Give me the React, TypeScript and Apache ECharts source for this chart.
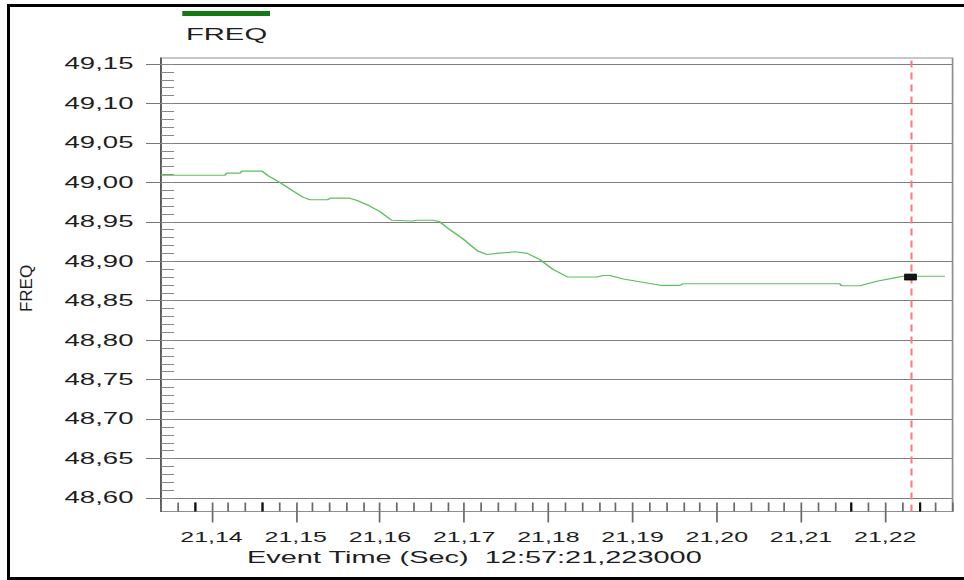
import React, { useEffect, useRef } from "react";
import * as echarts from "echarts";

// ---- data ----
const timeSec = [
  21.134, 21.1416, 21.1418, 21.1434, 21.1436, 21.146, 21.1467, 21.1481, 21.1497,
  21.1509, 21.1517, 21.1538, 21.1541, 21.1564, 21.1573, 21.1588, 21.16, 21.1614,
  21.1639, 21.1644, 21.1663, 21.1671, 21.1683, 21.1699, 21.1716, 21.1727, 21.1739,
  21.176, 21.1775, 21.179, 21.1805, 21.1823, 21.1858, 21.1865, 21.1873, 21.1889,
  21.1917, 21.1933, 21.1956, 21.196, 21.2146, 21.2148, 21.217, 21.219, 21.2214,
  21.2221, 21.2271,
];
const freqHz = [
  49.009, 49.009, 49.0117, 49.0117, 49.0143, 49.0143, 49.0086, 49.0, 48.989,
  48.981, 48.978, 48.978, 48.98, 48.98, 48.977, 48.97, 48.963, 48.952,
  48.951, 48.952, 48.952, 48.95, 48.94, 48.928, 48.913, 48.9085, 48.91,
  48.912, 48.91, 48.902, 48.89, 48.88, 48.88, 48.882, 48.882, 48.8776,
  48.8725, 48.8695, 48.8695, 48.8716, 48.8716, 48.869, 48.869, 48.8746, 48.8796,
  48.881, 48.881,
];
const xMajorTicks = [21.14, 21.15, 21.16, 21.17, 21.18, 21.19, 21.2, 21.21, 21.22];
const xDarkTicks = [21.138, 21.146, 21.216, 21.224];
const xMin = 21.134;
const xMax = 21.228;
const yMin = 48.6;
const yMax = 49.15;
const yStep = 0.05;
const yMinorStep = 0.01;
const xMinorStep = 0.002;
const eventTime = 21.223;
const eventFreq = 48.88;
const seriesName = "FREQ";
const xAxisTitle = "Event Time (Sec)  12:57:21,223000";

// ---- layout ----
const W = 560;
const S = 964 / W; // horizontal stretch of the original rendering
const FONT = "'Liberation Sans', Arial, Helvetica, sans-serif";
const TXT = "#1e1e1e";
const fmt = (v: number) => v.toFixed(2).replace(".", ",");

export default function App() {
  const ref = useRef<HTMLDivElement>(null);

  useEffect(() => {
    if (!ref.current) return;
    const chart = echarts.init(ref.current, undefined, { renderer: "svg" });
    const gridL = 161 / S;
    const gridR = W - 952.6 / S;
    const option: any = {
      animation: false,
      backgroundColor: "#ffffff",
      grid: [
        { left: gridL, right: gridR, top: 64, bottom: 82 },
        {
          left: gridL,
          right: gridR,
          top: 58,
          bottom: 68.5,
          show: true,
          borderColor: "#8f8f8f",
          borderWidth: 1,
          backgroundColor: "transparent",
        },
      ],
      xAxis: [
        { gridIndex: 0, type: "value", min: xMin, max: xMax, show: false },
        {
          gridIndex: 1,
          type: "value",
          position: "bottom",
          min: xMin,
          max: xMax,
          interval: xMinorStep,
          axisLine: { show: false, onZero: false },
          axisTick: { show: true, inside: true, length: 9, lineStyle: { color: "#6a6a6a", width: 1 } },
          axisLabel: { show: false },
          splitLine: { show: false },
        },
        {
          gridIndex: 1,
          type: "value",
          position: "bottom",
          min: xMin,
          max: xMax,
          axisLine: { show: false, onZero: false },
          axisTick: {
            show: true,
            inside: true,
            length: -11,
            customValues: xMajorTicks,
            lineStyle: { color: "#6a6a6a", width: 1 },
          },
          axisLabel: {
            show: true,
            customValues: xMajorTicks,
            formatter: fmt,
            margin: 18,
            fontSize: 14.5,
            color: TXT,
            fontFamily: FONT,
          },
          splitLine: { show: false },
        },
        {
          gridIndex: 1,
          type: "value",
          position: "bottom",
          min: xMin,
          max: xMax,
          axisLine: { show: false, onZero: false },
          axisTick: {
            show: true,
            inside: true,
            length: 9,
            customValues: xDarkTicks,
            lineStyle: { color: "#111111", width: 1.3 },
          },
          axisLabel: { show: false },
          splitLine: { show: false },
        },
      ],
      yAxis: [
        {
          gridIndex: 0,
          type: "value",
          position: "left",
          min: yMin,
          max: yMax,
          interval: yStep,
          axisLine: { show: false, onZero: false },
          axisTick: { show: true, inside: false, length: 15 / S, lineStyle: { color: "#777777" } },
          axisLabel: { margin: 16, fontSize: 16, color: TXT, fontFamily: FONT, formatter: fmt },
          splitLine: { show: true, lineStyle: { color: "#7d7d7d", width: 1 } },
        },
        {
          gridIndex: 0,
          type: "value",
          position: "left",
          min: yMin,
          max: yMax,
          interval: yMinorStep,
          axisLine: { show: false, onZero: false },
          axisTick: { show: true, inside: true, length: 13 / S, lineStyle: { color: "#888888" } },
          axisLabel: { show: false },
          splitLine: { show: false },
        },
        {
          gridIndex: 1,
          type: "value",
          position: "left",
          min: 0,
          max: 1,
          axisLine: { show: true, onZero: false, lineStyle: { color: "#555555", width: 1 } },
          axisTick: { show: false },
          axisLabel: { show: false },
          splitLine: { show: false },
        },
      ],
      series: [
        {
          name: seriesName,
          type: "line",
          xAxisIndex: 0,
          yAxisIndex: 0,
          data: timeSec.map((t, i) => [t, freqHz[i]]),
          showSymbol: false,
          symbol: "none",
          silent: true,
          lineStyle: { color: "#5fbf5f", width: 1.1 },
          z: 3,
        },
        {
          type: "scatter",
          xAxisIndex: 0,
          yAxisIndex: 0,
          data: [[eventTime, eventFreq]],
          symbol: "rect",
          symbolSize: [7, 6],
          silent: true,
          itemStyle: { color: "#151515", borderColor: "#000", borderWidth: 0.5, opacity: 1 },
          z: 6,
        },
        {
          type: "line",
          xAxisIndex: 1,
          yAxisIndex: 2,
          data: [],
          silent: true,
          markLine: {
            silent: true,
            precision: 6,
            symbol: ["none", "none"],
            label: { show: false },
            lineStyle: { color: "#ff7b7b", type: [7, 5], width: 1.2 },
            data: [{ xAxis: eventTime }],
          },
          z: 5,
        },
      ],
      graphic: [
        {
          type: "rect",
          shape: { x: 182.3 / S, y: 11, width: 87.7 / S, height: 5 },
          style: { fill: "#127a12" },
        },
        {
          type: "text",
          x: 226.5 / S,
          y: 34,
          style: {
            text: seriesName,
            fontSize: 17,
            fontFamily: FONT,
            fill: TXT,
            align: "center",
            verticalAlign: "middle",
            textAlign: "center",
            textVerticalAlign: "middle",
          },
        },
        {
          type: "text",
          x: 26 / S,
          y: 288.5,
          rotation: Math.PI / 2,
          scaleY: 1 / S,
          style: {
            text: seriesName,
            fontSize: 17,
            fontFamily: FONT,
            fill: TXT,
            align: "center",
            verticalAlign: "middle",
            textAlign: "center",
            textVerticalAlign: "middle",
          },
        },
        {
          type: "text",
          x: 247 / S,
          y: 558,
          scaleX: 1.05,
          style: {
            text: xAxisTitle,
            fontSize: 16,
            fontFamily: FONT,
            fill: TXT,
            align: "left",
            verticalAlign: "middle",
            textAlign: "left",
            textVerticalAlign: "middle",
          },
        },
      ],
    };
    chart.setOption(option);
    return () => chart.dispose();
  }, []);

  return (
    <div
      style={{
        position: "absolute",
        left: 0,
        top: 0,
        width: 964,
        height: 580,
        overflow: "hidden",
        background: "#ffffff",
      }}
    >
      <div
        ref={ref}
        style={{
          position: "absolute",
          left: 0,
          top: 0,
          width: W,
          height: 580,
          transform: `scaleX(${S})`,
          transformOrigin: "0 0",
        }}
      />
      <div
        style={{
          position: "absolute",
          left: 7,
          top: 4,
          width: 957,
          height: 576,
          boxSizing: "border-box",
          borderTop: "3px solid #000",
          borderLeft: "3px solid #000",
          borderBottom: "3px solid #000",
          pointerEvents: "none",
        }}
      />
    </div>
  );
}
